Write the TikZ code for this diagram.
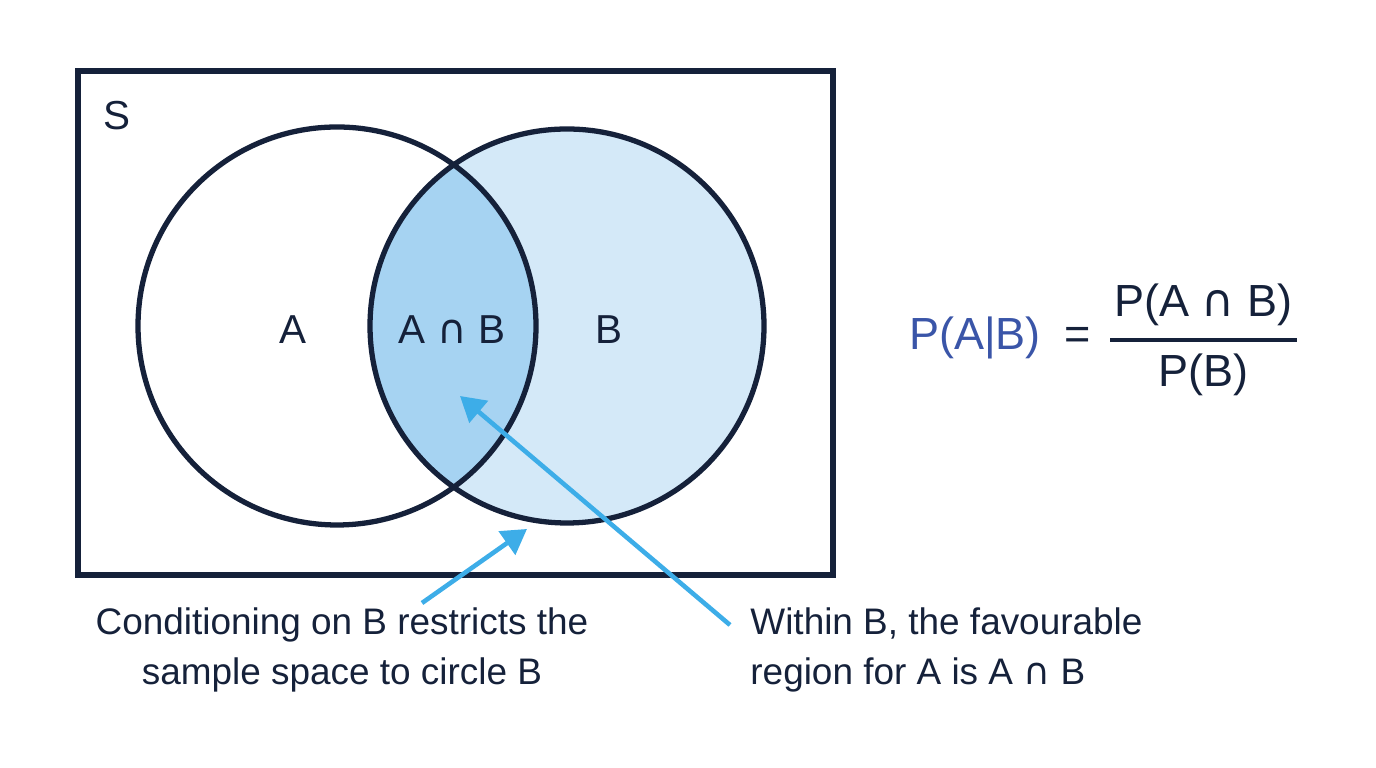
\documentclass[tikz,border=0pt]{standalone}
\usepackage{fontspec}
\setmainfont{Liberation Sans}
\newfontfamily\djvfont{DejaVu Sans}
\newcommand{\capsym}{{\djvfont ∩}}
\usetikzlibrary{arrows.meta}
\definecolor{ink}{HTML}{15213A}
\definecolor{bfill}{HTML}{D4E9F8}
\definecolor{ifill}{HTML}{A6D3F2}
\definecolor{arr}{HTML}{3DADE8}
\definecolor{pblue}{HTML}{3A55A8}
\begin{document}
\begin{tikzpicture}[x=0.01cm,y=-0.01cm,
  edge/.style={draw=ink,line width=1.5pt},
  lab/.style={font=\fontsize{11.5}{13}\selectfont,text=ink},
  note/.style={font=\fontsize{10.5}{14}\selectfont,text=ink,align=center},
  pointer/.style={draw=arr,line width=1.3pt,-{Triangle[length=7pt,width=8pt]}}]
\useasboundingbox (0,0) rectangle (1376,768);
\fill[bfill] (567,326) circle (197);
\begin{scope}\clip (337,326) circle (199);
\fill[ifill] (567,326) circle (197);\end{scope}
\draw[edge] (78,71) rectangle (833,575);
\draw[edge] (337,326) circle (199);
\draw[edge] (567,326) circle (197);
\node[lab] (s) at (117,116) {S};
\node[lab] (a) at (293,330) {A};
\node[lab] (ab) at (452,330) {A \capsym\ B};
\node[lab] (b) at (609,330) {B};
\node[font=\fontsize{12.8}{14}\selectfont,text=pblue] (p) at (975,338) {P(A|B)};
\node[font=\fontsize{12.8}{14}\selectfont,text=ink] (eq) at (1078,338) {=};
\node[font=\fontsize{12.8}{14}\selectfont,text=ink] (num) at (1203,305) {P(A \capsym\ B)};
\node[font=\fontsize{12.8}{14}\selectfont,text=ink] (den) at (1203,375) {P(B)};
\draw[ink,line width=1.4pt] (1110,340) -- (1297,340);
\node[note] (t1) at (342,650) {Conditioning on B restricts the\\sample space to circle B};
\node[note,align=left,anchor=west] (t2) at (738,650) {Within B, the favourable\\region for A is A \capsym\ B};
\coordinate (s1) at (422,603); \coordinate (e1) at (527,529);
\coordinate (s2) at (730,625); \coordinate (e2) at (460,396);
\draw[pointer] (s1) -- (e1);
\draw[pointer] (s2) -- (e2);
\end{tikzpicture}
\end{document}
